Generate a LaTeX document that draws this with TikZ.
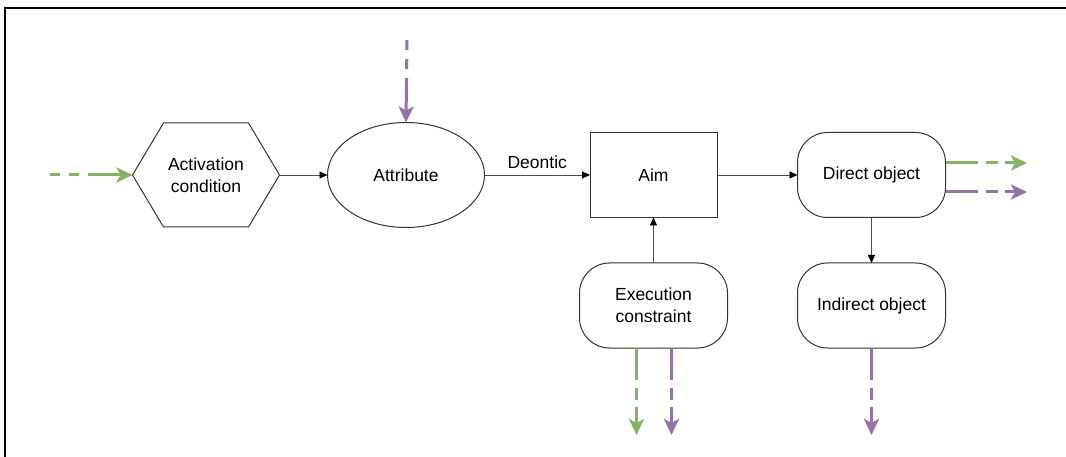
\documentclass[tikz,border=0pt]{standalone}
\usepackage{fontspec}
\setmainfont{Liberation Sans}
\usetikzlibrary{arrows.meta,shapes.geometric}

\definecolor{flowgreen}{HTML}{82B366}
\definecolor{flowpurple}{HTML}{9673A6}

\begin{document}
\begin{tikzpicture}[x=1pt,y=-1pt,
    element/.style={draw=black!80,line width=1pt,inner sep=0,outer sep=0,align=center,font=\labelfontsize},
    roundbox/.style={element,rounded corners=30pt,minimum width=148pt,minimum height=85pt},
    link/.style={black!70,line width=0.9pt,-{Triangle[length=8pt,width=7pt,black]}},
    flowin/.style={line width=3pt,dash pattern=on 10pt off 9pt on 10pt off 9pt on 80pt,-{Stealth[length=16pt,width=15pt,inset=4pt]}},
    flowout/.style={line width=3pt,dash pattern=on 32pt off 8pt on 12pt off 7pt on 80pt,-{Stealth[length=16pt,width=15pt,inset=4pt]}}]
    \providecommand{\labelfontsize}{\fontsize{17.5}{22}\selectfont}
    \useasboundingbox (0,0) rectangle (1066,457);
    % frame, only top and left edge are in view
    \draw[line width=1.5pt] (5,457) -- (5,8) -- (1066,8);

    \node[element,draw=none,minimum width=147pt,minimum height=104pt] (act) at (206,175) {Activation\\condition};
    \draw[black!80,line width=1pt] ([xshift=31pt]act.north west) -- ([xshift=-31pt]act.north east) -- (act.east)
        -- ([xshift=-31pt]act.south east) -- ([xshift=31pt]act.south west) -- (act.west) -- cycle;
    \node[element,ellipse,minimum width=157pt,minimum height=105pt] (attr) at (406,175) {Attribute};
    \node[element,rectangle,minimum width=127pt,minimum height=85pt] (aim) at (653.5,175) {Aim};
    \node[roundbox] (dobj) at (871.5,175) {Direct object};
    \node[roundbox] (iobj) at (871.5,305.5) {Indirect object};
    \node[roundbox] (exec) at (653.5,305.5) {Execution\\constraint};

    \draw[link] (act) -- (attr);
    \draw[link] (attr) -- node[above=3pt,text=black,font=\labelfontsize] (deon) {Deontic} (aim);
    \draw[link] (aim) -- (dobj);
    \draw[link] (exec) -- (aim);
    \draw[link] (dobj) -- (iobj);

    % incoming and outgoing flows
    \coordinate (actin) at (50,175);
    \coordinate (attrin) at (407,40);
    \coordinate (dobjg) at (1027,163);
    \coordinate (dobjp) at (1027,192);
    \coordinate (execg) at (636.5,435);
    \coordinate (execp) at (671.5,435);
    \coordinate (iobjp) at (871.5,435);
    \draw[flowin,flowgreen] (actin) -- (act.west);
    \draw[flowin,flowpurple] (attrin) -- (attr.north);
    \draw[flowout,flowgreen] ([yshift=12pt]dobj.east) -- (dobjg);
    \draw[flowout,flowpurple] ([yshift=-17pt]dobj.east) -- (dobjp);
    \draw[flowout,flowgreen] ([xshift=-17pt]exec.south) -- (execg);
    \draw[flowout,flowpurple] ([xshift=18pt]exec.south) -- (execp);
    \draw[flowout,flowpurple] (iobj.south) -- (iobjp);
\end{tikzpicture}
\end{document}
